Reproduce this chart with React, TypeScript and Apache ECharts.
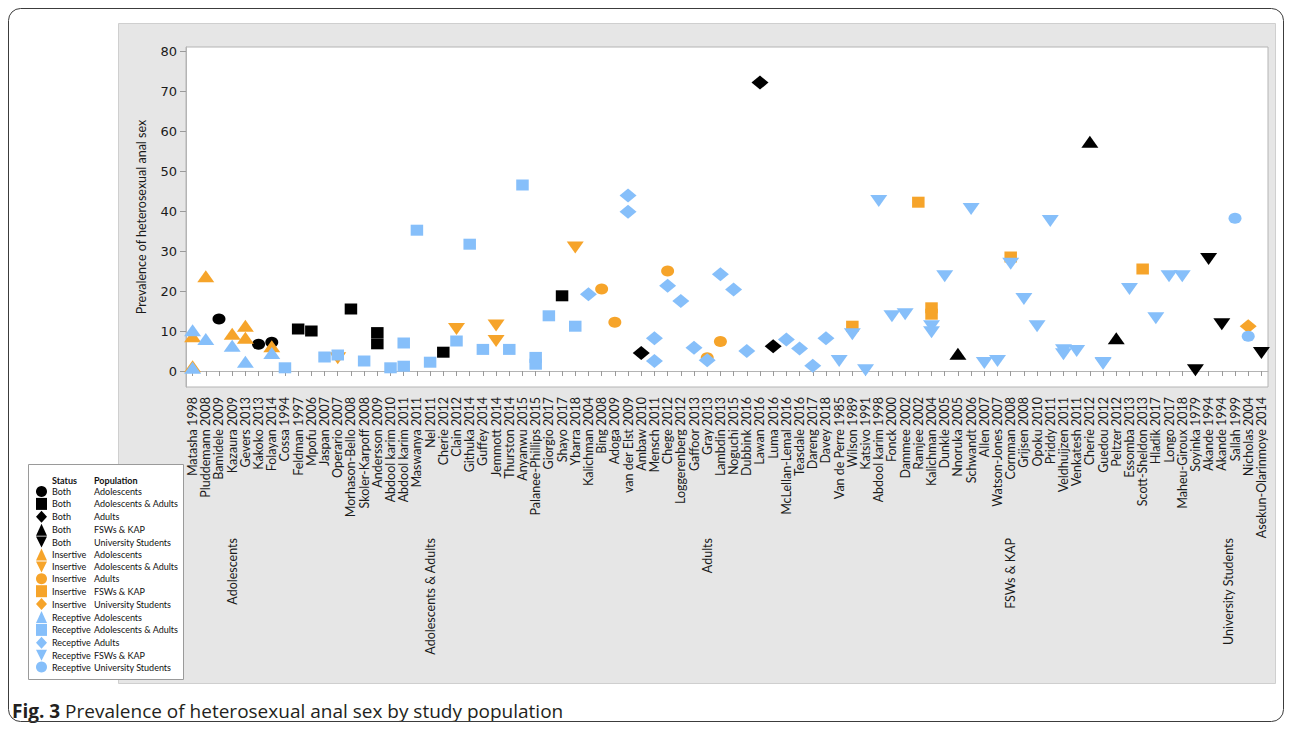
import React, { useEffect, useRef } from "react";
import * as echarts from "echarts";

type Pt = [string, number];

// ---- categories (study labels) by population group ----
const adolescents = ["Matasha 1998", "Pluddemann 2008", "Bamidele 2009", "Kazaura 2009", "Gevers 2013", "Kakoko 2013", "Folayan 2014"];
const adolAdults = ["Cossa 1994", "Feldman 1997", "Mpofu 2006", "Jaspan 2007", "Operario 2007", "Morhason-Bello 2008", "Skoler-Karpoff 2008", "Andersson 2009", "Abdool karim 2010", "Abdool karim 2011", "Maswanya 2011", "Nel 2011", "Cherie 2012", "Clain 2012", "Githuka 2014", "Guffey 2014", "Jemmott 2014", "Thurston 2014", "Anyanwu 2015", "Palanee-Phillips 2015", "Giorgio 2017", "Shayo 2017", "Ybarra 2018"];
const adults = ["Kalichman 2004", "Bing 2008", "Adoga 2009", "van der Elst 2009", "Ambaw 2010", "Mensch 2011", "Chege 2012", "Loggerenberg 2012", "Gaffoor 2013", "Gray 2013", "Lambdin 2013", "Noguchi 2015", "Dubbink 2016", "Lawan 2016", "Luma 2016", "McLellan-Lemal 2016", "Teasdale 2016", "Dareng 2017", "Davey 2018"];
const fsws = ["Van de Perre 1985", "Wilson 1989", "Katsivo 1991", "Abdool karim 1998", "Fonck 2000", "Dammee 2002", "Ramjee 2002", "Kalichman 2004", "Dunkle 2005", "Nnoruka 2005", "Schwandt 2006", "Allen 2007", "Watson-Jones 2007", "Cornman 2008", "Grijsen 2008", "Opoku 2010", "Priddy 2011", "Veldhuijzen 2011", "Venkatesh 2011", "Cherie 2012", "Guedou 2012", "Peltzer 2012", "Essomba 2013", "Scott-Sheldon 2013", "Hladik 2017", "Longo 2017", "Maheu-Giroux 2018"];
const university = ["Soyinka 1979", "Akande 1994", "Akande 1994", "Sallah 1999", "Nicholas 2004", "Asekun-Olarinmoye 2014"];

const groupNames = ["Adolescents", "Adolescents & Adults", "Adults", "FSWs & KAP", "University Students"];
const groupStudies = [adolescents, adolAdults, adults, fsws, university];

// ---- y axis ----
const yTitle = "Prevalence of heterosexual anal sex";
const yTickValues = [0, 10, 20, 30, 40, 50, 60, 70, 80];

// ---- series values: [study, prevalence] ----
const bothAdolescents: Pt[] = [["Bamidele 2009", 13], ["Kakoko 2013", 6.7], ["Folayan 2014", 7.2]];
const bothAdolAdults: Pt[] = [["Feldman 1997", 10.5], ["Mpofu 2006", 10], ["Morhason-Bello 2008", 15.5], ["Andersson 2009", 9.6], ["Andersson 2009", 6.8], ["Cherie 2012", 4.7], ["Shayo 2017", 18.8]];
const bothAdults: Pt[] = [["Ambaw 2010", 4.5], ["Lawan 2016", 72.1], ["Luma 2016", 6.2]];
const bothFsw: Pt[] = [["Nnoruka 2005", 4.3], ["Cherie 2012", 57.3], ["Peltzer 2012", 8.2]];
const bothUniv: Pt[] = [["Soyinka 1979", 0.2], ["Akande 1994", 28], ["Akande 1994#2", 11.7], ["Asekun-Olarinmoye 2014", 4.5]];

const insAdolescents: Pt[] = [["Matasha 1998", 8.7], ["Matasha 1998", 1.2], ["Pluddemann 2008", 23.7], ["Kazaura 2009", 9.3], ["Gevers 2013", 11.3], ["Gevers 2013", 8.3], ["Folayan 2014", 6.2]];
const insAdolAdults: Pt[] = [["Operario 2007", 3.2], ["Clain 2012", 10.5], ["Jemmott 2014", 11.4], ["Jemmott 2014", 7.5], ["Ybarra 2018", 30.9]];
const insAdults: Pt[] = [["Bing 2008", 20.5], ["Adoga 2009", 12.2], ["Chege 2012", 25], ["Gray 2013", 3.3], ["Lambdin 2013", 7.4]];
const insFsw: Pt[] = [["Wilson 1989", 11.2], ["Ramjee 2002", 42.2], ["Kalichman 2004", 15.8], ["Kalichman 2004", 14.2], ["Cornman 2008", 28.5], ["Scott-Sheldon 2013", 25.5]];
const insUniv: Pt[] = [["Nicholas 2004", 11.2]];

const recAdolescents: Pt[] = [["Matasha 1998", 10.2], ["Matasha 1998", 0.8], ["Pluddemann 2008", 8.0], ["Kazaura 2009", 6.3], ["Gevers 2013", 2.3], ["Folayan 2014", 4.5]];
const recAdolAdults: Pt[] = [["Cossa 1994", 0.8], ["Jaspan 2007", 3.5], ["Operario 2007", 4.0], ["Skoler-Karpoff 2008", 2.5], ["Abdool karim 2010", 0.8], ["Abdool karim 2011", 1.2], ["Abdool karim 2011", 7.0], ["Maswanya 2011", 35.2], ["Nel 2011", 2.2], ["Clain 2012", 7.5], ["Githuka 2014", 31.7], ["Guffey 2014", 5.4], ["Thurston 2014", 5.4], ["Anyanwu 2015", 46.5], ["Palanee-Phillips 2015", 3.4], ["Palanee-Phillips 2015", 1.7], ["Giorgio 2017", 13.8], ["Ybarra 2018", 11.2]];
const recAdults: Pt[] = [["Kalichman 2004", 19.2], ["van der Elst 2009", 43.9], ["van der Elst 2009", 39.8], ["Mensch 2011", 8.2], ["Mensch 2011", 2.5], ["Chege 2012", 21.3], ["Loggerenberg 2012", 17.5], ["Gaffoor 2013", 5.8], ["Gray 2013", 2.7], ["Lambdin 2013", 24.2], ["Noguchi 2015", 20.4], ["Dubbink 2016", 5.0], ["McLellan-Lemal 2016", 7.9], ["Teasdale 2016", 5.6], ["Dareng 2017", 1.3], ["Davey 2018", 8.2]];
const recFsw: Pt[] = [["Van de Perre 1985", 2.5], ["Wilson 1989", 9.2], ["Katsivo 1991", 0.2], ["Abdool karim 1998", 42.5], ["Fonck 2000", 13.7], ["Dammee 2002", 14.2], ["Kalichman 2004", 11.2], ["Kalichman 2004", 9.7], ["Dunkle 2005", 23.7], ["Schwandt 2006", 40.5], ["Allen 2007", 2.0], ["Watson-Jones 2007", 2.5], ["Cornman 2008", 26.8], ["Grijsen 2008", 18.0], ["Opoku 2010", 11.2], ["Priddy 2011", 37.5], ["Veldhuijzen 2011", 5.2], ["Veldhuijzen 2011", 4.2], ["Venkatesh 2011", 5.0], ["Guedou 2012", 2.0], ["Guedou 2012", 1.8], ["Essomba 2013", 20.5], ["Hladik 2017", 13.2], ["Longo 2017", 23.7], ["Maheu-Giroux 2018", 23.7]];
const recUniv: Pt[] = [["Sallah 1999", 38.2], ["Nicholas 2004", 8.7]];

// ---- styles ----
const BLACK = "#000000";
const ORANGE = "#f6a42a";
const BLUE = "#86bffa";
const LABEL_FONT = "Lato";
const DOWN_ICON = "path://M0,0L10,0L5,10Z";

const SHAPES: Record<string, { symbol: string; size: number[]; rotate: number }> = {
  circle: { symbol: "circle", size: [13, 11], rotate: 0 },
  square: { symbol: "rect", size: [12.5, 11], rotate: 0 },
  diamond: { symbol: "diamond", size: [17, 14], rotate: 0 },
  up: { symbol: "triangle", size: [17, 12], rotate: 0 },
  down: { symbol: "triangle", size: [17, 12], rotate: 180 },
};

const seriesDefs = [
  { status: "Both", group: 0, color: BLACK, shape: "circle", data: bothAdolescents },
  { status: "Both", group: 1, color: BLACK, shape: "square", data: bothAdolAdults },
  { status: "Both", group: 2, color: BLACK, shape: "diamond", data: bothAdults },
  { status: "Both", group: 3, color: BLACK, shape: "up", data: bothFsw },
  { status: "Both", group: 4, color: BLACK, shape: "down", data: bothUniv },
  { status: "Insertive", group: 0, color: ORANGE, shape: "up", data: insAdolescents },
  { status: "Insertive", group: 1, color: ORANGE, shape: "down", data: insAdolAdults },
  { status: "Insertive", group: 2, color: ORANGE, shape: "circle", data: insAdults },
  { status: "Insertive", group: 3, color: ORANGE, shape: "square", data: insFsw },
  { status: "Insertive", group: 4, color: ORANGE, shape: "diamond", data: insUniv },
  { status: "Receptive", group: 0, color: BLUE, shape: "up", data: recAdolescents },
  { status: "Receptive", group: 1, color: BLUE, shape: "square", data: recAdolAdults },
  { status: "Receptive", group: 2, color: BLUE, shape: "diamond", data: recAdults },
  { status: "Receptive", group: 3, color: BLUE, shape: "down", data: recFsw },
  { status: "Receptive", group: 4, color: BLUE, shape: "circle", data: recUniv },
];

const categories: string[] = groupStudies.flat();
const groupOffsets: number[] = groupStudies.map((_, i) =>
  groupStudies.slice(0, i).reduce((s, g) => s + g.length, 0)
);

function categoryIndex(group: number, study: string): number {
  const [name, occ] = study.split("#");
  const nth = occ ? parseInt(occ, 10) : 1;
  const list = groupStudies[group];
  let seen = 0;
  for (let i = 0; i < list.length; i++) {
    if (list[i] === name) {
      seen++;
      if (seen === nth) return groupOffsets[group] + i;
    }
  }
  return groupOffsets[group];
}

export default function App() {
  const ref = useRef<HTMLDivElement>(null);

  useEffect(() => {
    const el = ref.current;
    if (!el) return;
    const chart = echarts.init(el, null, { renderer: "svg" });

    const series = seriesDefs.map((d) => {
      const sh = SHAPES[d.shape];
      return {
        type: "scatter",
        name: `${d.status} ${groupNames[d.group]}`,
        symbol: sh.symbol,
        symbolSize: sh.size,
        symbolRotate: sh.rotate,
        itemStyle: { color: d.color, opacity: 1 },
        z: 3,
        data: d.data.map(([s, v]) => [categoryIndex(d.group, s), v]),
      };
    });

    const statusOf: Record<string, string> = {};
    const popOf: Record<string, string> = {};
    seriesDefs.forEach((d) => {
      const n = `${d.status} ${groupNames[d.group]}`;
      statusOf[n] = d.status;
      popOf[n] = groupNames[d.group];
    });

    const legendData = seriesDefs.map((d) => {
      const name = `${d.status} ${groupNames[d.group]}`;
      return d.shape === "down" ? { name, icon: DOWN_ICON } : { name };
    });

    const baseGraphics: any[] = [
      {
        id: "panel",
        type: "rect",
        z: -10,
        shape: { x: 118.5, y: 23.5, width: 1157, height: 660 },
        style: { fill: "#e6e6e6", stroke: "#cfcfcf", lineWidth: 1 },
      },
      {
        id: "outer",
        type: "rect",
        z: 50,
        shape: { x: 8.5, y: 8.5, width: 1275, height: 713, r: 12 },
        style: { fill: "none", stroke: "#3c3c3c", lineWidth: 1 },
      },
      {
        id: "legendBox",
        type: "rect",
        z: 3,
        shape: { x: 28.5, y: 464.5, width: 155, height: 215 },
        style: { fill: "#ffffff", stroke: "#9a9a9a", lineWidth: 1 },
      },
      {
        id: "hdrStatus",
        type: "text",
        z: 5,
        x: 52,
        y: 480,
        style: { text: "Status", fill: "#111", font: `bold 9px ${LABEL_FONT}`, verticalAlign: "middle" },
      },
      {
        id: "hdrPop",
        type: "text",
        z: 5,
        x: 94,
        y: 480,
        style: { text: "Population", fill: "#111", font: `bold 9px ${LABEL_FONT}`, verticalAlign: "middle" },
      },
      {
        id: "caption",
        type: "text",
        z: 5,
        x: 12,
        y: 711,
        style: {
          text: "{b|Fig. 3} Prevalence of heterosexual anal sex by study population",
          fill: "#231f20",
          font: `19px "Open Sans"`,
          verticalAlign: "middle",
          rich: { b: { fontWeight: "bold", fontSize: 19, fontFamily: "Open Sans", fill: "#231f20" } },
        },
      },
    ];

    chart.setOption({
      animation: false,
      backgroundColor: "#ffffff",
      grid: {
        left: 186,
        top: 47,
        right: 24,
        bottom: 343,
        show: true,
        backgroundColor: "#ffffff",
        borderColor: "#b4b4b4",
        borderWidth: 1,
        containLabel: false,
      },
      xAxis: {
        type: "category",
        data: categories,
        boundaryGap: true,
        axisLine: { show: true, lineStyle: { color: "#b4b4b4" } },
        axisTick: { show: true, alignWithLabel: true, interval: 0, length: 5, lineStyle: { color: "#9a9a9a" } },
        axisLabel: {
          rotate: 90,
          interval: 0,
          margin: 10,
          fontSize: 12.5,
          fontFamily: LABEL_FONT,
          color: "#1a1a1a",
        },
        splitLine: { show: false },
      },
      yAxis: {
        type: "value",
        min: -4,
        max: 81,
        splitNumber: 8,
        minInterval: 10,
        maxInterval: 10,
        name: yTitle,
        nameLocation: "middle",
        nameGap: 38,
        nameTextStyle: { fontSize: 12.5, fontFamily: LABEL_FONT, color: "#1a1a1a" },
        axisLine: { show: true, lineStyle: { color: "#b4b4b4" } },
        axisTick: { show: true, length: 6, lineStyle: { color: "#9a9a9a" } },
        axisLabel: {
          margin: 9,
          fontSize: 13,
          fontFamily: "DejaVu Sans",
          color: "#1a1a1a",
          showMinLabel: false,
          showMaxLabel: false,
          formatter: (v: number) => (yTickValues.includes(v) ? String(v) : ""),
        },
        splitLine: { show: false },
      },
      legend: {
        orient: "vertical",
        left: 36,
        top: 486,
        itemWidth: 11,
        itemHeight: 12,
        itemGap: 0.9,
        padding: 0,
        selectedMode: false,
        data: legendData,
        formatter: (name: string) => `{s|${statusOf[name]}}{p|${popOf[name]}}`,
        textStyle: {
          fontSize: 9,
          fontFamily: LABEL_FONT,
          color: "#111",
          rich: {
            s: { width: 42, fontSize: 9, fontFamily: LABEL_FONT, color: "#111" },
            p: { fontSize: 9, fontFamily: LABEL_FONT, color: "#111" },
          },
        },
        z: 6,
      },
      graphic: { elements: baseGraphics },
      series,
    });

    const groupLabels = groupNames.map((g, i) => {
      const first = groupOffsets[i];
      const last = first + groupStudies[i].length - 1;
      const x1 = chart.convertToPixel({ xAxisIndex: 0 }, first) as number;
      const x2 = chart.convertToPixel({ xAxisIndex: 0 }, last) as number;
      return {
        id: `grp${i}`,
        type: "text",
        z: 5,
        x: (x1 + x2) / 2,
        y: 538,
        rotation: Math.PI / 2,
        style: {
          text: g,
          fill: "#1a1a1a",
          font: `12.5px ${LABEL_FONT}`,
          align: "right",
          verticalAlign: "middle",
        },
      };
    });

    chart.setOption({ graphic: { elements: [...baseGraphics, ...groupLabels] } });

    return () => {
      chart.dispose();
    };
  }, []);

  return (
    <div
      ref={ref}
      style={{ position: "absolute", left: 0, top: 0, width: 1292, height: 730 }}
    />
  );
}
